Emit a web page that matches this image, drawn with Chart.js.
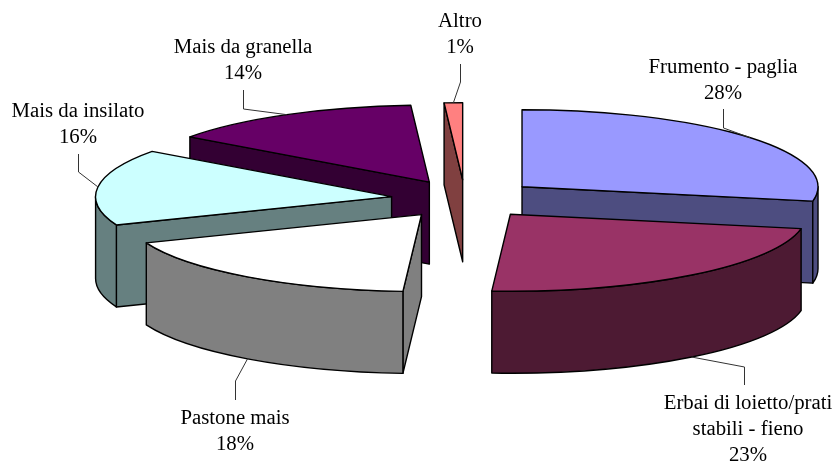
<!DOCTYPE html>
<html>
<head>
<meta charset="utf-8">
<style>html,body{margin:0;padding:0;background:#fff}#w{width:836px;height:461px}</style>
<script src="https://cdn.jsdelivr.net/npm/chart.js@4"></script>
</head>
<body>
<div id="w"><canvas id="c" width="836" height="461"></canvas></div>
<script>
const categories = ['Frumento - paglia','Erbai di loietto/prati|stabili - fieno','Pastone mais','Mais da insilato','Mais da granella','Altro'];
const shares = [28,23,18,16,14,1];
const topColors = ['#9999FF','#993366','#FFFFFF','#CCFFFF','#660066','#FF8080'];
const wallColors = ['#4D4D80','#4D1A33','#808080','#668080','#330033','#804040'];
// label centre x, first baseline y, leader elbow and leader end
const labelLayout = [
  {x:723,y:73, elbow:[723,128],end:[723,109]},
  {x:748,y:409,elbow:[744,367],end:[744,385]},
  {x:235,y:424,elbow:[235,381],end:[235,400]},
  {x:78, y:117,elbow:[78,172], end:[78,154]},
  {x:243,y:53, elbow:[243,109],end:[243,90]},
  {x:460,y:27, elbow:[460,82], end:[460,64]}
];
const view = {rx:296, ry:77, depth:82, lineWidth:1.4, font:'20.8px "Liberation Serif"', lineHeight:26};

const pie3d = {
  id:'pie3d',
  beforeDatasetDraw(chart){
    const ctx = chart.ctx, arcs = chart.getDatasetMeta(0).data;
    const geo = arcs.map((arc,i)=>{
      const sx = view.rx/arc.outerRadius, sy = view.ry/arc.outerRadius;
      const mid = (arc.startAngle+arc.endAngle)/2, off = arc.options.offset/4;
      return {i,a:arc.startAngle,b:arc.endAngle,mid,
        cx:arc.x+Math.cos(mid)*off*sx, cy:arc.y+Math.sin(mid)*off*sy};
    });
    const R = view, P = (g,t,dz=0)=>[g.cx+R.rx*Math.cos(t), g.cy+R.ry*Math.sin(t)+dz];
    const paint = (fill)=>{
      ctx.closePath(); ctx.fillStyle=fill; ctx.fill();
      ctx.lineWidth=R.lineWidth; ctx.strokeStyle='#000'; ctx.lineJoin='round'; ctx.stroke();
    };
    ctx.save();
    [...geo].sort((p,q)=>Math.sin(p.mid)-Math.sin(q.mid)).forEach(g=>{
      const wall = wallColors[g.i];
      const faces = [];
      if (Math.cos(g.a)<0) faces.push(g.a);
      if (Math.cos(g.b)>0) faces.push(g.b);
      faces.forEach(t=>{
        const p=P(g,t), q=P(g,t,R.depth);
        ctx.beginPath();
        ctx.moveTo(g.cx,g.cy); ctx.lineTo(p[0],p[1]); ctx.lineTo(q[0],q[1]); ctx.lineTo(g.cx,g.cy+R.depth);
        paint(wall);
      });
      const w0=Math.max(g.a,0), w1=Math.min(g.b,Math.PI);
      if (w1>w0){
        ctx.beginPath();
        ctx.ellipse(g.cx,g.cy,R.rx,R.ry,0,w0,w1);
        ctx.ellipse(g.cx,g.cy+R.depth,R.rx,R.ry,0,w1,w0,true);
        paint(wall);
      }
      ctx.beginPath();
      ctx.moveTo(g.cx,g.cy);
      ctx.ellipse(g.cx,g.cy,R.rx,R.ry,0,g.a,g.b);
      paint(topColors[g.i]);
    });
    // leaders and labels
    ctx.textAlign='center'; ctx.textBaseline='alphabetic'; ctx.font=R.font;
    geo.forEach(g=>{
      const L=labelLayout[g.i];
      const front=Math.sin(g.mid)>0;
      const anchor=P(g,g.mid,front?R.depth:0);
      ctx.beginPath();
      ctx.moveTo(L.end[0]+.5,L.end[1]); ctx.lineTo(L.elbow[0]+.5,L.elbow[1]); ctx.lineTo(anchor[0],anchor[1]);
      ctx.lineWidth=1; ctx.strokeStyle='#333'; ctx.stroke();
      const lines=categories[g.i].split('|').concat(shares[g.i]+'%');
      ctx.fillStyle='#000';
      lines.forEach((s,k)=>ctx.fillText(s,L.x,L.y+k*R.lineHeight));
    });
    ctx.restore();
    return false;
  }
};

new Chart(document.getElementById('c'),{
  type:'pie',
  data:{labels:categories.map(s=>s.replace('|',' ')),
    datasets:[{data:shares,backgroundColor:topColors,offset:160,borderWidth:0}]},
  options:{
    responsive:false,animation:false,radius:160,
    layout:{padding:{left:94,right:0,top:0,bottom:63}},
    plugins:{legend:{display:false},tooltip:{enabled:false},title:{display:false}}
  },
  plugins:[pie3d]
});
</script>
</body>
</html>
